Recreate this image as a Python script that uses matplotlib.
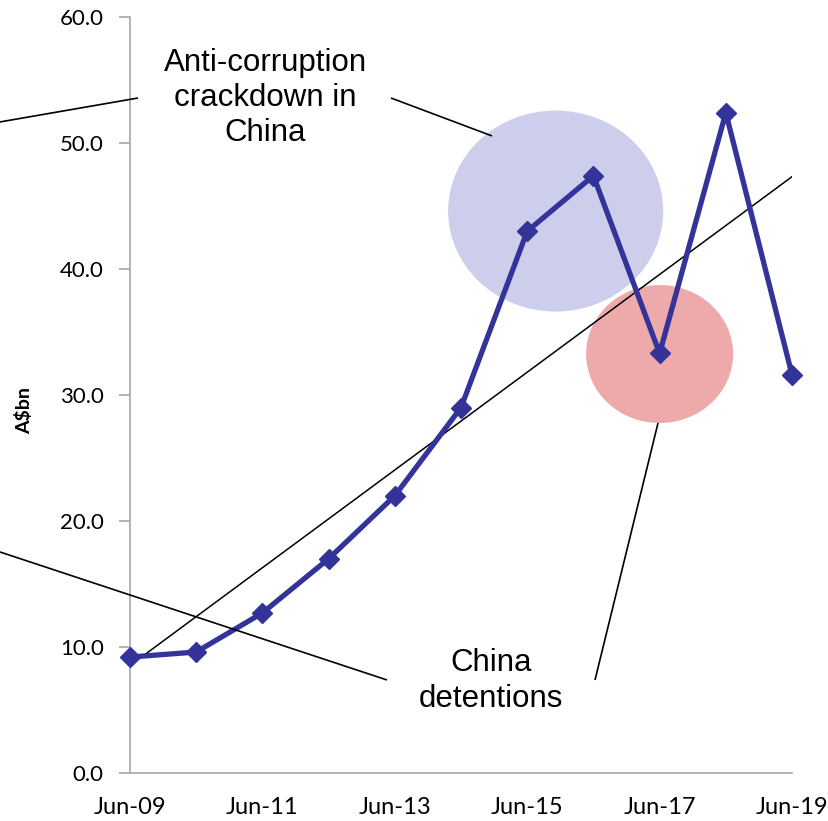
import matplotlib
matplotlib.use("Agg")
import matplotlib.pyplot as plt
from matplotlib.patches import Ellipse
import numpy as np

# Annual values, A$bn
periods = ["Jun-09", "Jun-10", "Jun-11", "Jun-12", "Jun-13", "Jun-14",
           "Jun-15", "Jun-16", "Jun-17", "Jun-18", "Jun-19"]
values = [9.2, 9.6, 12.7, 17.0, 22.0, 29.0, 43.0, 47.4, 33.3, 52.4, 31.6]
y_ticks = [0.0, 10.0, 20.0, 30.0, 40.0, 50.0, 60.0]
annotation_top = "Anti-corruption\ncrackdown in\nChina"
annotation_bottom = "China\ndetentions"

navy = "#333399"
axis_grey = "#A6A6A6"

fig = plt.figure(figsize=(8.29, 8.21), dpi=100)
ax = fig.add_axes([0.1568, 0.0585, 0.7986, 0.9208])

x = np.arange(len(periods))

# Highlight ellipses behind the series
ax.add_patch(Ellipse((6.43, 44.6), 3.25, 15.95, facecolor="#CDCDEC",
                     edgecolor="none", zorder=1))
ax.add_patch(Ellipse((8.0, 33.25), 2.22, 10.95, facecolor="#EEAAAA",
                     edgecolor="none", zorder=1))

# Linear trend line
slope, intercept = np.polyfit(x, values, 1)
ax.plot([x[0], x[-1]], [intercept + slope * x[0], intercept + slope * x[-1]],
        color="black", lw=1.1, zorder=3)

# Series
ax.plot(x, values, color=navy, lw=3.8, marker="D", markersize=10.5,
        markerfacecolor=navy, markeredgecolor=navy, zorder=4,
        clip_on=False)

# Callout lines and labels
callouts = [
    ((-1.964, 51.67), (0.121, 53.57)),
    ((3.943, 53.57), (5.468, 50.56)),
    ((-1.964, 17.54), (3.882, 7.38)),
    ((7.024, 7.38), (7.976, 27.78)),
]
for (x0, y0), (x1, y1) in callouts:
    ax.plot([x0, x1], [y0, y1], color="black", lw=1.2, zorder=5,
            clip_on=False, solid_capstyle="butt")

ax.text(2.04, 53.6, annotation_top, ha="center", va="center",
        fontsize=22.5, family="Liberation Sans", linespacing=1.22, zorder=6)
ax.text(5.45, 7.3, annotation_bottom, ha="center", va="center",
        fontsize=22.5, family="Liberation Sans", linespacing=1.22, zorder=6)

ax.set_xlim(0, 10)
ax.set_ylim(0, 60)
ax.set_yticks(y_ticks)
ax.set_yticklabels([f"{v:.1f}" for v in y_ticks], family="Lato", fontsize=16)
ax.set_xticks(x[::2])
ax.set_xticklabels(periods[::2], family="Lato", fontsize=17)

ax.tick_params(axis="y", length=8, width=1.2, color=axis_grey, pad=11)
ax.tick_params(axis="x", length=0, pad=17)

for side in ("top", "right"):
    ax.spines[side].set_visible(False)
for side in ("left", "bottom"):
    ax.spines[side].set_color(axis_grey)
    ax.spines[side].set_linewidth(1.2)

ax.set_ylabel("A$bn", family="Lato", fontsize=14, fontweight="bold")
ax.yaxis.set_label_coords(-0.146, 0.48)

fig.savefig("out.png", dpi=100)
